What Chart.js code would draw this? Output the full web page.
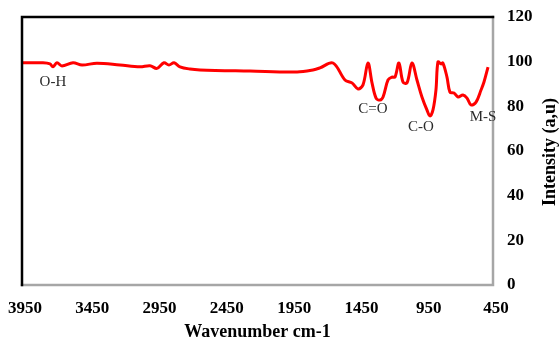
<!DOCTYPE html>
<html>
<head>
<meta charset="utf-8">
<script src="https://cdn.jsdelivr.net/npm/chart.js@4/dist/chart.umd.min.js"></script>
<style>
  html, body { margin: 0; padding: 0; background: #fff; }
  #wrap { width: 560px; height: 341px; }
</style>
</head>
<body>
<div id="wrap"><canvas id="ir" width="560" height="341"></canvas></div>
<script>
// FT-IR spectrum: wavenumber (cm-1) and intensity (a.u.)
const wavenumbers = [
  3950, 3794, 3742, 3720, 3690, 3653, 3571, 3504, 3393, 3222,
  3073, 2999, 2947, 2895, 2858, 2820, 2776, 2702, 2627, 2256,
  1906, 1788, 1736, 1639, 1550, 1498, 1453, 1416, 1379, 1349,
  1319, 1290, 1267, 1230, 1201, 1178, 1149, 1119, 1089, 1052,
  1015, 978, 941, 918, 896, 874, 859, 837, 822, 792,
  770, 740, 710, 673, 643, 613, 576, 539, 517, 487
];
const intensity = [
  99.5, 99.5, 99.0, 97.7, 99.5, 98.1, 99.5, 98.5, 99.3, 98.5,
  97.7, 98.2, 97.0, 99.5, 98.5, 99.5, 97.7, 96.7, 96.3, 95.8,
  95.4, 96.3, 97.2, 99.4, 91.8, 90.5, 87.8, 89.6, 99.4, 90.5,
  83.7, 82.8, 84.2, 91.8, 93.1, 93.1, 99.4, 90.9, 90.5, 99.4,
  91.8, 84.2, 78.4, 75.7, 78.4, 87.3, 99.9, 99.0, 99.4, 93.1,
  86.4, 86.0, 84.2, 85.1, 83.7, 80.6, 81.9, 87.3, 90.9, 97.6
];

// Band assignments, anchored in data units (wavenumber, intensity)
const bandLabels = ['O-H', 'C=O', 'C-O', 'M-S'];
const bandWavenumbers = [3720, 1342, 985, 524];
const bandIntensities = [90.9, 78.8, 70.8, 75.2];

// Axis ticks
const xTickValues = [3950, 3450, 2950, 2450, 1950, 1450, 950, 450];
const yTickValues = [0, 20, 40, 60, 80, 100, 120];

const serif = "'Liberation Serif', 'Times New Roman', serif";

const framePlugin = {
  id: 'frame',
  afterDatasetsDraw(chart) {
    const { ctx, chartArea: a } = chart;
    ctx.save();
    ctx.lineCap = 'square';
    // right and bottom edges in grey
    ctx.strokeStyle = '#a6a6a6';
    ctx.lineWidth = 2.5;
    ctx.beginPath();
    ctx.moveTo(a.right, a.top);
    ctx.lineTo(a.right, a.bottom);
    ctx.lineTo(a.left, a.bottom);
    ctx.stroke();
    // left and top edges in black
    ctx.strokeStyle = '#000';
    ctx.lineWidth = 2.5;
    ctx.beginPath();
    ctx.moveTo(a.left, a.bottom);
    ctx.lineTo(a.left, a.top);
    ctx.lineTo(a.right, a.top);
    ctx.stroke();
    ctx.restore();
  },
  afterDraw(chart) {
    const { ctx, chartArea: a, scales } = chart;
    ctx.save();
    // band labels
    ctx.font = '15px ' + serif;
    ctx.fillStyle = '#2b2b2b';
    ctx.textAlign = 'center';
    ctx.textBaseline = 'middle';
    bandLabels.forEach((t, i) => {
      ctx.fillText(t, scales.x.getPixelForValue(bandWavenumbers[i]),
                      scales.y.getPixelForValue(bandIntensities[i]));
    });
    // y-axis title, reading bottom to top
    ctx.font = 'bold 18px ' + serif;
    ctx.fillStyle = '#000';
    ctx.translate(550, (a.top + a.bottom) / 2 + 1);
    ctx.rotate(-Math.PI / 2);
    ctx.fillText('Intensity (a,u)', 0, 0);
    ctx.restore();
  }
};

new Chart(document.getElementById('ir'), {
  type: 'line',
  data: {
    datasets: [{
      data: wavenumbers.map((w, i) => ({ x: w, y: intensity[i] })),
      borderColor: '#ff0000',
      borderWidth: 3,
      pointRadius: 0,
      tension: 0.35,
      fill: false
    }]
  },
  options: {
    responsive: false,
    animation: false,
    layout: { padding: { left: 22, top: 17, right: 0, bottom: 0 } },
    plugins: { legend: { display: false }, tooltip: { enabled: false } },
    scales: {
      x: {
        type: 'linear',
        reverse: true,
        min: 450,
        max: 3950,
        afterBuildTicks: s => { s.ticks = xTickValues.map(v => ({ value: v })); },
        afterFit: s => { s.height = 56; s.paddingLeft = 0; s.paddingRight = 0; },
        grid: { display: false, drawTicks: false },
        border: { display: false },
        ticks: {
          padding: 13,
          labelOffset: 3,
          maxRotation: 0,
          autoSkip: false,
          color: '#000',
          callback: v => String(v),
          font: { family: serif, size: 17, weight: 'bold' }
        },
        title: {
          display: true,
          text: 'Wavenumber cm-1',
          color: '#000',
          padding: { top: 0, bottom: 0 },
          font: { family: serif, size: 18, weight: 'bold', lineHeight: 1.0 }
        }
      },
      y: {
        position: 'right',
        min: 0,
        max: 120,
        afterBuildTicks: s => { s.ticks = yTickValues.map(v => ({ value: v })); },
        afterFit: s => { s.width = 67; s.paddingTop = 0; s.paddingBottom = 0; },
        grid: { display: false, drawTicks: false },
        border: { display: false },
        ticks: {
          padding: 14,
          color: '#000',
          callback: v => String(v),
          font: { family: serif, size: 17, weight: 'bold' }
        }
      }
    }
  },
  plugins: [framePlugin]
});
</script>
</body>
</html>
